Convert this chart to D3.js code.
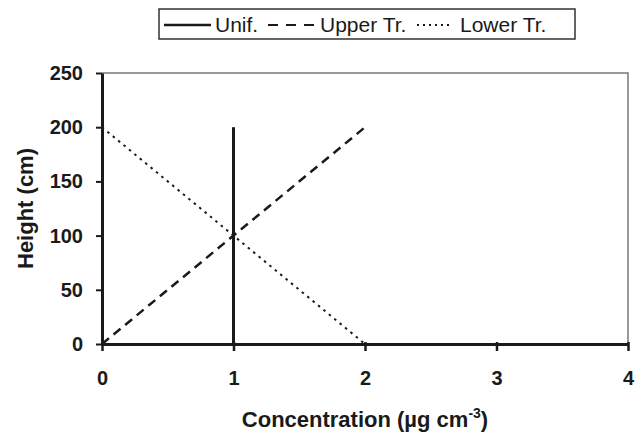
<!DOCTYPE html>
<html>
<head>
<meta charset="utf-8">
<script src="https://cdn.jsdelivr.net/npm/d3@7"></script>
<style>
  body { margin: 0; background: #fff; }
  svg { font-family: "Liberation Sans", Arial, sans-serif; }
</style>
</head>
<body>
<div id="vis"></div>
<script>
const frame_width = 643;
const frame_height = 435;
const margins = {left: 102, right: 15, top: 73, bottom: 91};

// data
const series_names = ["Unif.", "Upper Tr.", "Lower Tr."];
const unif_conc = [1, 1];
const unif_height = [0, 200];
const upper_conc = [0, 2];
const upper_height = [0, 200];
const lower_conc = [0, 2];
const lower_height = [200, 0];
const x_ticks = [0, 1, 2, 3, 4];
const y_ticks = [0, 50, 100, 150, 200, 250];

const dash_styles = {"Unif.": null, "Upper Tr.": "9,6", "Lower Tr.": "2.5,4.5"};
const line_widths = {"Unif.": 3, "Upper Tr.": 2.5, "Lower Tr.": 2};

const FRAME = d3.select("#vis")
  .append("svg")
    .attr("width", frame_width)
    .attr("height", frame_height);

const X_SCALE = d3.scaleLinear()
  .domain([0, 4])
  .range([margins.left, frame_width - margins.right]);

const Y_SCALE = d3.scaleLinear()
  .domain([0, 250])
  .range([frame_height - margins.bottom, margins.top]);

// plot frame (top and right thin gray)
FRAME.append("path")
  .attr("d", "M" + X_SCALE(0) + "," + Y_SCALE(250) + "H" + X_SCALE(4) + "V" + Y_SCALE(0))
  .attr("fill", "none")
  .attr("stroke", "#777")
  .attr("stroke-width", 1.5);

// series
const series = [
  {name: "Unif.", xs: unif_conc, ys: unif_height},
  {name: "Upper Tr.", xs: upper_conc, ys: upper_height},
  {name: "Lower Tr.", xs: lower_conc, ys: lower_height}
];

const line = d3.line()
  .x((d) => X_SCALE(d[0]))
  .y((d) => Y_SCALE(d[1]));

series.forEach((s) => {
  FRAME.append("path")
    .datum(d3.zip(s.xs, s.ys))
    .attr("d", line)
    .attr("fill", "none")
    .attr("stroke", "#1a1a1a")
    .attr("stroke-width", line_widths[s.name])
    .attr("stroke-dasharray", dash_styles[s.name]);
});

// x axis
const xAxis = FRAME.append("g")
  .attr("transform", "translate(0," + Y_SCALE(0) + ")")
  .call(d3.axisBottom(X_SCALE).tickValues(x_ticks).tickFormat(d3.format("d"))
    .tickSizeInner(7).tickSizeOuter(0).tickPadding(20));
xAxis.select(".domain").attr("stroke", "#1a1a1a").attr("stroke-width", 3);
xAxis.selectAll(".tick line").attr("stroke", "#1a1a1a").attr("stroke-width", 2.5).attr("y1", -2);
xAxis.selectAll("text").attr("font-size", "20px").attr("font-weight", "bold").attr("fill", "#1a1a1a")
  .attr("font-family", "Liberation Sans, Arial, sans-serif");

// y axis
const yAxis = FRAME.append("g")
  .attr("transform", "translate(" + X_SCALE(0) + ",0)")
  .call(d3.axisLeft(Y_SCALE).tickValues(y_ticks)
    .tickSizeInner(6).tickSizeOuter(0).tickPadding(13));
yAxis.select(".domain").attr("stroke", "#1a1a1a").attr("stroke-width", 3);
yAxis.selectAll(".tick line").attr("stroke", "#1a1a1a").attr("stroke-width", 2);
yAxis.selectAll("text").attr("font-size", "20px").attr("font-weight", "bold").attr("fill", "#1a1a1a")
  .attr("font-family", "Liberation Sans, Arial, sans-serif");

// axis titles
const xTitle = FRAME.append("text")
  .attr("x", (X_SCALE(0) + X_SCALE(4)) / 2)
  .attr("y", 427)
  .attr("text-anchor", "middle")
  .attr("font-size", "22px")
  .attr("font-weight", "bold")
  .attr("fill", "#1a1a1a");
xTitle.append("tspan").text("Concentration (µg cm");
xTitle.append("tspan").attr("dy", -9).attr("font-size", "14px").text("-3");
xTitle.append("tspan").attr("dy", 9).text(")");

FRAME.append("text")
  .attr("transform", "translate(33," + (Y_SCALE(0) + Y_SCALE(250)) / 2 + ") rotate(-90)")
  .attr("text-anchor", "middle")
  .attr("font-size", "22px")
  .attr("font-weight", "bold")
  .attr("fill", "#1a1a1a")
  .text("Height (cm)");

// legend
const legend = FRAME.append("g");
legend.append("rect")
  .attr("x", 159).attr("y", 9)
  .attr("width", 416).attr("height", 30)
  .attr("fill", "none")
  .attr("stroke", "#333")
  .attr("stroke-width", 1.5);

const legend_items = [
  {name: series_names[0], x1: 164, x2: 211, tx: 215},
  {name: series_names[1], x1: 268, x2: 314, tx: 320},
  {name: series_names[2], x1: 417, x2: 451, tx: 460}
];
legend_items.forEach((it) => {
  legend.append("line")
    .attr("x1", it.x1).attr("x2", it.x2)
    .attr("y1", 25).attr("y2", 25)
    .attr("stroke", "#1a1a1a")
    .attr("stroke-width", it.name === "Unif." ? 2.5 : 2)
    .attr("stroke-dasharray", it.name === "Upper Tr." ? "10,8" : (it.name === "Lower Tr." ? "2,4" : null));
  legend.append("text")
    .attr("x", it.tx).attr("y", 32)
    .attr("font-size", "21px")
    .attr("fill", "#1a1a1a")
    .text(it.name);
});
</script>
</body>
</html>
